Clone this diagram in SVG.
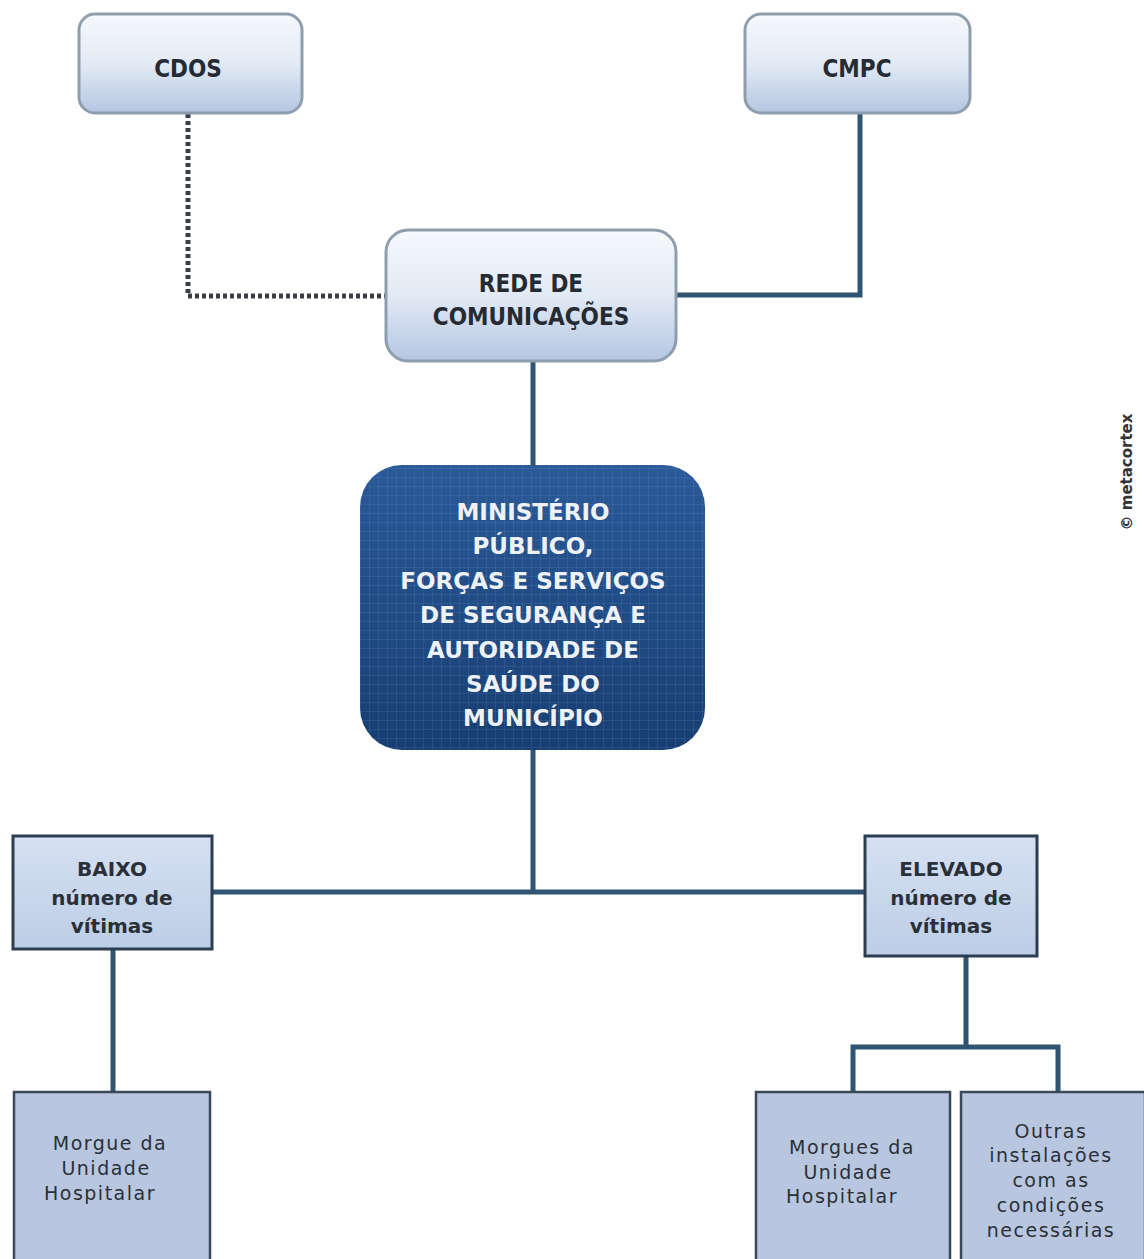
<svg xmlns="http://www.w3.org/2000/svg" width="1144" height="1259" viewBox="0 0 1144 1259">
<defs>
<linearGradient id="lg" x1="0" y1="0" x2="0" y2="1">
<stop offset="0" stop-color="#f6f9fd"/>
<stop offset="0.5" stop-color="#e2eaf5"/>
<stop offset="1" stop-color="#b4c6e2"/>
</linearGradient>
<linearGradient id="dg" x1="0" y1="0" x2="0" y2="1">
<stop offset="0" stop-color="#2a5a98"/>
<stop offset="1" stop-color="#173e72"/>
</linearGradient>
<linearGradient id="mg" x1="0" y1="0" x2="0" y2="1">
<stop offset="0" stop-color="#d6e1f2"/>
<stop offset="1" stop-color="#bccde6"/>
</linearGradient>
<pattern id="grid" width="9" height="9" patternUnits="userSpaceOnUse">
<path d="M0 0H9M0 0V9" stroke="#6f93c4" stroke-width="1" opacity="0.35" fill="none"/>
</pattern>
<style>
.lt{fill:url(#lg);stroke:#8f9eae;stroke-width:3}
.mid{fill:url(#mg);stroke:#2c3d52;stroke-width:3}
.bot{fill:#b8c7df;stroke:#3b4858;stroke-width:2.5}
.conn{fill:none;stroke:#2f5573;stroke-width:5}
.t1{font-family:"DejaVu Sans Condensed","DejaVu Sans",sans-serif;font-weight:bold;font-size:24px;fill:#262b33;text-anchor:middle}
.tw{font-family:"DejaVu Sans",sans-serif;font-weight:bold;font-size:23px;fill:#eef2f8;text-anchor:middle}
.tm{font-family:"DejaVu Sans",sans-serif;font-weight:bold;font-size:20px;fill:#2a3038;text-anchor:middle}
.tb{font-family:"DejaVu Sans",sans-serif;font-size:19px;letter-spacing:1.5px;fill:#2a3038;text-anchor:middle}
</style>
</defs>
<rect width="1144" height="1259" fill="#ffffff"/>
<g id="connectors">
<path d="M188 114V296H386" fill="none" stroke="#3a3f46" stroke-width="5" stroke-dasharray="4 3"/>
<path class="conn" d="M860 114V295H676"/>
<path class="conn" d="M533 362V465"/>
<path class="conn" d="M533 750V892"/>
<path class="conn" d="M212 892H865"/>
<path class="conn" d="M113 950V1092" stroke-width="3"/>
<path class="conn" d="M966 957V1047M853 1092V1047H1058V1092" stroke-width="4"/>
</g>
<g id="cdos">
<rect class="lt" x="79" y="14" width="223" height="99" rx="16"/>
<text class="t1" x="188" y="77">CDOS</text>
</g>
<g id="cmpc">
<rect class="lt" x="745" y="14" width="225" height="99" rx="16"/>
<text class="t1" x="857" y="77">CMPC</text>
</g>
<g id="rede">
<rect class="lt" x="386" y="230" width="290" height="131" rx="22"/>
<text class="t1" x="531" y="292">REDE DE</text>
<text class="t1" x="531" y="325">COMUNICAÇÕES</text>
</g>
<g id="ministerio">
<rect x="360" y="465" width="345" height="285" rx="42" fill="url(#dg)"/>
<rect x="360" y="465" width="345" height="285" rx="42" fill="url(#grid)"/>
<text class="tw" x="533" y="520">MINISTÉRIO</text>
<text class="tw" x="533" y="554">PÚBLICO,</text>
<text class="tw" x="533" y="589">FORÇAS E SERVIÇOS</text>
<text class="tw" x="533" y="623">DE SEGURANÇA E</text>
<text class="tw" x="533" y="658">AUTORIDADE DE</text>
<text class="tw" x="533" y="692">SAÚDE DO</text>
<text class="tw" x="533" y="726">MUNICÍPIO</text>
</g>
<g id="baixo">
<rect class="mid" x="13" y="836" width="199" height="113"/>
<text class="tm" x="112" y="876">BAIXO</text>
<text class="tm" x="112" y="905">número de</text>
<text class="tm" x="112" y="933">vítimas</text>
</g>
<g id="elevado">
<rect class="mid" x="865" y="836" width="172" height="120"/>
<text class="tm" x="951" y="876">ELEVADO</text>
<text class="tm" x="951" y="905">número de</text>
<text class="tm" x="951" y="933">vítimas</text>
</g>
<g id="morgue">
<rect class="bot" x="14" y="1092" width="196" height="170"/>
<text class="tb" x="110" y="1150">Morgue da</text>
<text class="tb" x="106" y="1175">Unidade</text>
<text class="tb" x="100" y="1200">Hospitalar</text>
</g>
<g id="morgues">
<rect class="bot" x="756" y="1092" width="194" height="170"/>
<text class="tb" x="852" y="1154">Morgues da</text>
<text class="tb" x="848" y="1179">Unidade</text>
<text class="tb" x="842" y="1203">Hospitalar</text>
</g>
<g id="outras">
<rect class="bot" x="961" y="1092" width="184" height="170"/>
<text class="tb" x="1051" y="1138">Outras</text>
<text class="tb" x="1051" y="1162">instalações</text>
<text class="tb" x="1051" y="1187">com as</text>
<text class="tb" x="1051" y="1212">condições</text>
<text class="tb" x="1051" y="1237">necessárias</text>
</g>
<text x="1132" y="472" transform="rotate(-90 1132 472)" font-family="DejaVu Sans,sans-serif" font-size="15" font-weight="bold" fill="#333" text-anchor="middle">© metacortex</text>
</svg>
